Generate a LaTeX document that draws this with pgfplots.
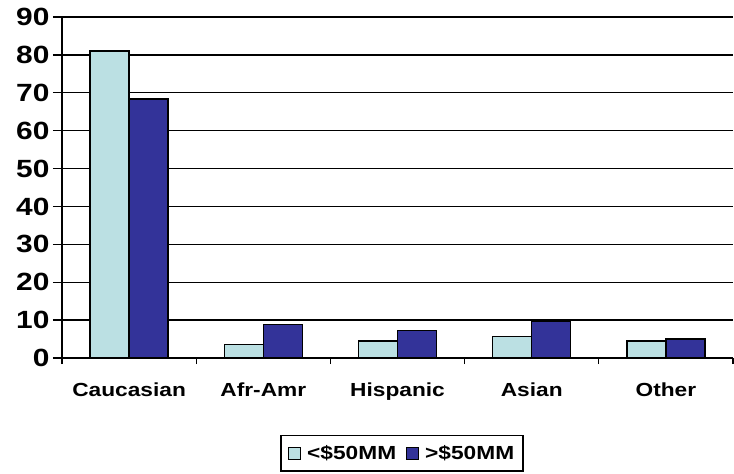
\documentclass[border=0pt]{standalone}
\usepackage{fontspec}
\setmainfont{Liberation Sans}[FakeStretch=1.2]
\usepackage{pgfplots}
\pgfplotsset{compat=1.18}
\definecolor{lowbar}{HTML}{BBE0E3}
\definecolor{highbar}{HTML}{333399}

\begin{document}
\begin{tikzpicture}
\useasboundingbox (0,0) rectangle (734bp,474bp);
\begin{axis}[
  at={(62bp,116bp)}, anchor=south west,
  scale only axis, width=671bp, height=341bp,
  ybar=0pt, bar width=39bp,
  xmin=-0.5, xmax=4.5, ymin=0, ymax=90,
  ytick={0,10,...,90},
  xtick={-0.5,0.5,...,4.5}, x tick label as interval,
  xticklabels={Caucasian,Afr-Amr,Hispanic,Asian,Other},
  ymajorgrids, grid style={black, line width=1.3bp},
  axis x line*=bottom, axis y line*=left,
  x axis line style={-, black, line width=1.5bp},
  y axis line style={-, black, line width=1.5bp},
  tick align=outside,
  major tick length=9bp,
  tick style={black, line width=1.3bp},
  xtick style={/pgfplots/major tick length=6bp},
  /pgf/number format/assume math mode=true,
  yticklabel style={font=\fontsize{25}{25}\selectfont\bfseries},
  xticklabel style={font=\fontsize{19}{19}\selectfont\bfseries, yshift=-12bp},
  legend columns=2,
  legend style={at={(0.507,-0.279)}, anchor=center, draw=black, line width=1.5bp,
    inner xsep=7bp, inner ysep=8bp,
    font=\fontsize{19}{19}\selectfont\bfseries,
    /tikz/every odd column/.append style={column sep=4bp},
    /tikz/every even column/.append style={column sep=8bp}},
]
\addplot[fill=lowbar, draw=black, line width=1.5bp,
  legend image code/.code={\draw[fill=lowbar, draw=black, line width=1bp] (0bp,-6bp) rectangle (12bp,6bp);}]
  coordinates {(0,81) (1,3.5) (2,4.5) (3,5.7) (4,4.5)};
\addplot[fill=highbar, draw=black, line width=1.5bp,
  legend image code/.code={\draw[fill=highbar, draw=black, line width=1bp] (0bp,-6bp) rectangle (12bp,6bp);}]
  coordinates {(0,68.4) (1,8.9) (2,7.3) (3,9.8) (4,5.0)};
\legend{<\$50MM, >\$50MM}
\end{axis}
\end{tikzpicture}
\end{document}
